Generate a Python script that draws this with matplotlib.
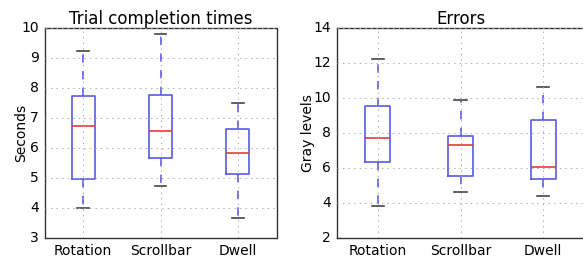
import matplotlib
matplotlib.use('Agg')
import matplotlib.pyplot as plt

plt.style.use('classic')

groups = ['Rotation', 'Scrollbar', 'Dwell']

# trial completion times (seconds): low whisker, q1, median, q3, high whisker
time_lo = [4.0, 4.72, 3.68]
time_q1 = [4.97, 5.68, 5.12]
time_med = [6.72, 6.58, 5.85]
time_q3 = [7.72, 7.76, 6.65]
time_hi = [9.25, 9.8, 7.5]

# errors (gray levels)
err_lo = [3.81, 4.61, 4.42]
err_q1 = [6.32, 5.52, 5.39]
err_med = [7.73, 7.31, 6.06]
err_q3 = [9.52, 7.81, 8.72]
err_hi = [12.23, 9.9, 10.63]


def make_stats(lo, q1, med, q3, hi):
    stats = []
    for i in range(len(groups)):
        stats.append({'whislo': lo[i], 'q1': q1[i], 'med': med[i],
                      'q3': q3[i], 'whishi': hi[i], 'fliers': [],
                      'label': groups[i]})
    return stats


fig = plt.figure(figsize=(5.83, 2.58), dpi=100, facecolor='white')
W, H = 583.0, 258.0
ax1 = fig.add_axes([44.5 / W, 20 / H, 232 / W, 210 / H])
ax2 = fig.add_axes([336.5 / W, 20 / H, 248 / W, 210 / H])

box_kw = dict(widths=0.3,
              boxprops=dict(color='#5a5ae6', linewidth=1.2),
              whiskerprops=dict(color='#5a5ae6', linestyle='--', linewidth=1.2),
              capprops=dict(color='#444444', linewidth=1.2),
              medianprops=dict(color='#e63c3c', linewidth=1.2))

ax1.bxp(make_stats(time_lo, time_q1, time_med, time_q3, time_hi), **box_kw)
ax2.bxp(make_stats(err_lo, err_q1, err_med, err_q3, err_hi), **box_kw)

ax1.set_ylim(3, 10)
ax1.set_yticks(range(3, 11))
ax1.set_title('Trial completion times', fontsize=12, pad=3)
ax1.set_ylabel('Seconds', fontsize=10)
ax1.yaxis.set_label_coords(-0.071, 0.5)

ax2.set_ylim(2, 14)
ax2.set_yticks(range(2, 15, 2))
ax2.set_title('Errors', fontsize=12, pad=3)
ax2.set_ylabel('Gray levels', fontsize=10)
ax2.yaxis.set_label_coords(-0.087, 0.5)

for ax in (ax1, ax2):
    ax.set_xlim(0.5, 3.5)
    ax.grid(True, color='#aaaaaa', linestyle=':', linewidth=0.7)
    ax.tick_params(labelsize=10, length=0)
    ax.set_facecolor('white')
    for s in ax.spines.values():
        s.set_color('#333333')

fig.savefig('out.png', dpi=100, facecolor='white')
